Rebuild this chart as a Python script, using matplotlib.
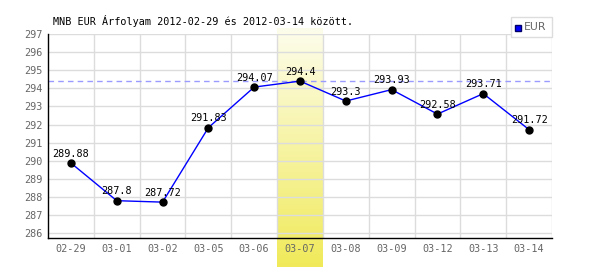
import matplotlib
matplotlib.use("Agg")
import matplotlib.pyplot as plt
import numpy as np
from matplotlib.patches import Rectangle
from matplotlib.lines import Line2D

dates = ["02-29", "03-01", "03-02", "03-05", "03-06", "03-07", "03-08", "03-09", "03-12", "03-13", "03-14"]
values = [289.88, 287.8, 287.72, 291.83, 294.07, 294.4, 293.3, 293.93, 292.58, 293.71, 291.72]
value_labels = ["289.88", "287.8", "287.72", "291.83", "294.07", "294.4", "293.3", "293.93", "292.58", "293.71", "291.72"]
yticks = [286, 287, 288, 289, 290, 291, 292, 293, 294, 295, 296, 297]
highlight = "03-07"
title = "MNB EUR Árfolyam 2012-02-29 és 2012-03-14 között."
series_name = "EUR"

MONO = "DejaVu Sans Mono"
FS = 7.3

W, H = 600, 270
fig = plt.figure(figsize=(W / 100, H / 100), dpi=100)
ax = fig.add_axes([48 / W, (H - 238) / H, 504 / W, 204 / H])
ax.set_facecolor("none")

x = np.arange(len(dates))
ax.set_xlim(-0.5, len(dates) - 0.5)
ax.set_ylim(285.74, 297)

# grid
for yv in yticks:
    ax.axhline(yv, color="#dcdcdc", lw=1, zorder=0)
for k in range(1, len(dates) + 1):
    ax.axvline(k - 0.5, color="#dcdcdc", lw=1, zorder=0)

# highlight band (gradient), extends beyond the axes
hi = dates.index(highlight)
fig.canvas.draw()
inv = fig.transFigure.inverted()
(fx0, _) = inv.transform(ax.transData.transform((hi - 0.5, 290)))
(fx1, _) = inv.transform(ax.transData.transform((hi + 0.5, 290)))
band_ax = fig.add_axes([fx0, 3 / H, fx1 - fx0, (267 - 28) / H], zorder=-1)
grad = np.linspace(0, 1, 256).reshape(-1, 1)
top = np.array([0xfd, 0xfd, 0xec]) / 255
bot = np.array([0xf0, 0xea, 0x5a]) / 255
img = top[None, None, :] * (1 - grad[:, :, None]) + bot[None, None, :] * grad[:, :, None]
band_ax.imshow(img, aspect="auto", extent=[0, 1, 0, 1], origin="upper")
band_ax.axis("off")
ax.set_zorder(1)

# max dashed line
ax.axhline(max(values), color="#9a9aff", lw=1, ls=(0, (4, 3)), zorder=1)

# series
ax.plot(x, values, color="#0000ff", lw=1, zorder=3)
ax.plot(x, values, "o", color="black", ms=5, zorder=4)
for xi, v, lab in zip(x, values, value_labels):
    ax.annotate(lab, (xi, v), xytext=(0, 4.5), textcoords="offset points",
                ha="center", va="baseline", fontsize=FS, family=MONO,
                color="black", zorder=5)

ax.set_xticks(x)
ax.set_xticklabels(dates)
ax.set_yticks(yticks)
ax.tick_params(axis="both", length=0, labelsize=FS, labelcolor="#666666")
ax.tick_params(axis="x", pad=4.5)
ax.tick_params(axis="y", pad=4)
for lab in ax.get_xticklabels() + ax.get_yticklabels():
    lab.set_family(MONO)

for s in ["top", "right"]:
    ax.spines[s].set_visible(False)
ax.spines["left"].set_color("black")
ax.spines["bottom"].set_color("black")
ax.spines["left"].set_linewidth(1)
ax.spines["bottom"].set_linewidth(1)

fig.text(53 / W, (H - 25) / H, title, fontsize=FS, family=MONO,
         color="black", ha="left", va="baseline")

# legend box
fig.patches.append(Rectangle((511 / W, (H - 37) / H), 41 / W, 20 / H,
                             transform=fig.transFigure, facecolor="white",
                             edgecolor="#dddddd", lw=1))
fig.lines.append(Line2D([518 / W], [(H - 27.5) / H], marker="s", ms=4.5,
                        color="#0000ff", markeredgecolor="#000066",
                        transform=fig.transFigure))
fig.text(524 / W, (H - 27.5) / H, series_name, fontsize=7.8, color="#666666",
         ha="left", va="center")

fig.savefig("out.png", dpi=100)
